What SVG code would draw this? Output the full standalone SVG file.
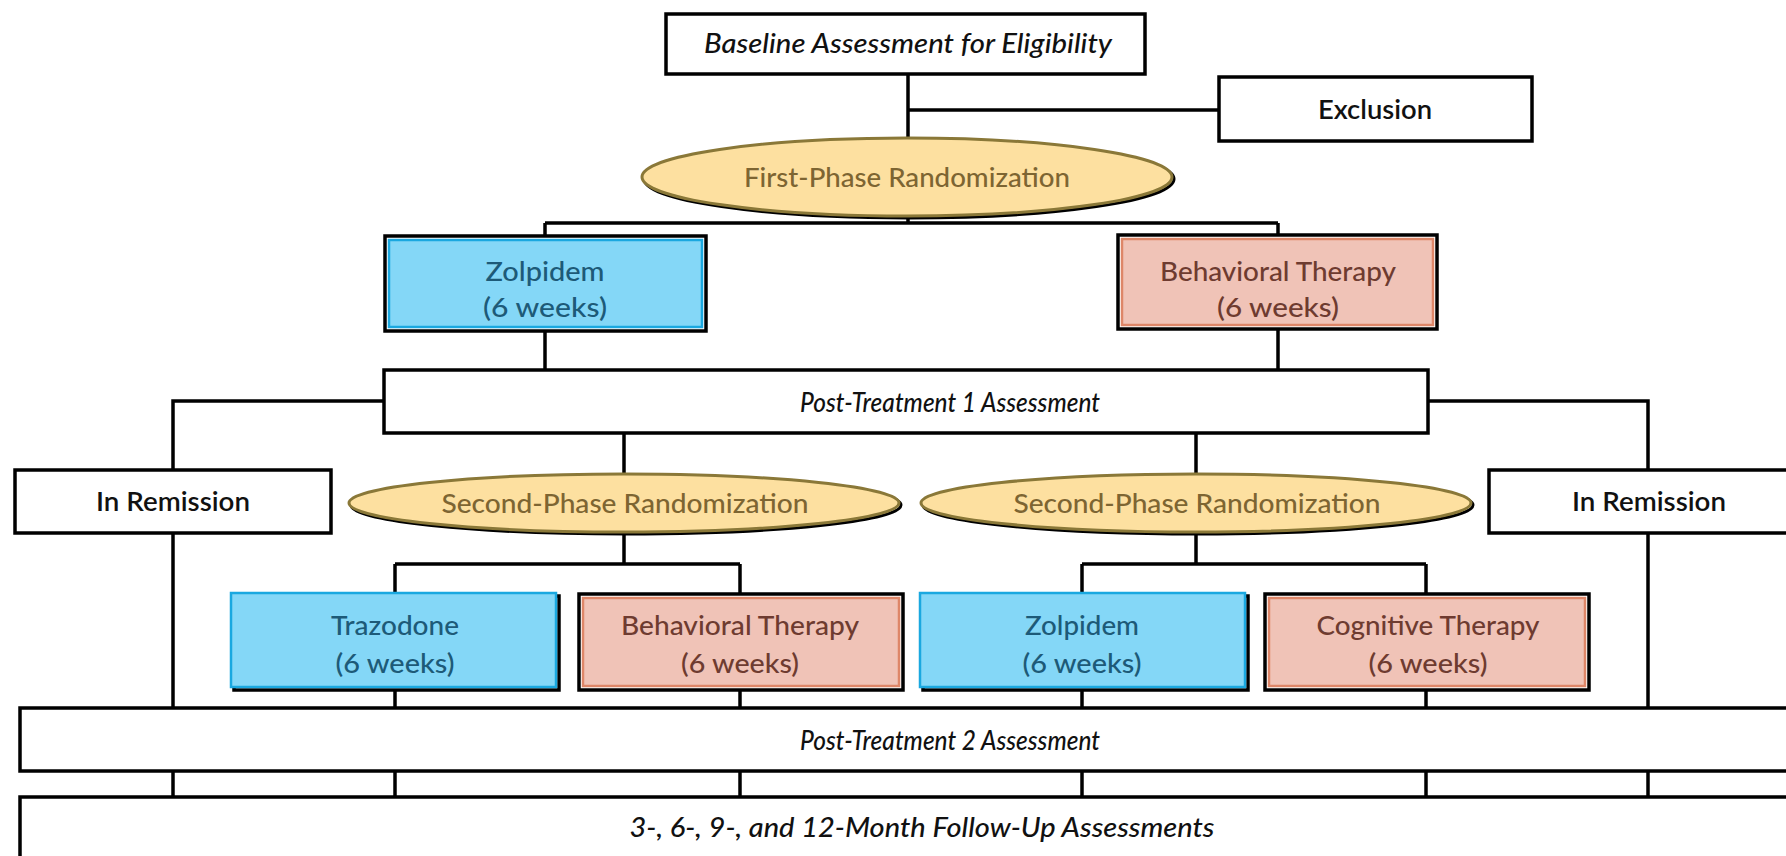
<svg xmlns="http://www.w3.org/2000/svg" width="1786" height="856" viewBox="0 0 1786 856">
  <style>
    text { font-family: Lato, "Open Sans", "Liberation Sans", sans-serif; font-size: 27px; font-weight: 500; text-anchor: middle; }
    .it { font-style: italic; fill: #111; }
    .bk { fill: #111; font-weight: 600; }
    .bl { fill: #1d5a78; }
    .sa { fill: #6e3b30; }
    .el { fill: #7d6532; }
    .box { fill: #fff; stroke: #000; stroke-width: 3.5; }
    .frame { fill: none; stroke: #000; stroke-width: 3.5; }
    .blueIn { fill: #84d7f7; stroke: #1aa8e0; stroke-width: 2.5; }
    .salIn { fill: #f0c3b7; stroke: #de8668; stroke-width: 2.5; }
    .ovShadow { fill: none; stroke: #000; stroke-width: 3; }
    .ov { fill: #fde0a0; stroke: #8a7838; stroke-width: 3; }
    .conn path { fill: none; stroke: #000; stroke-width: 3.5; }
  </style>

  <!-- connectors -->
  <g id="connectors" class="conn">
    <path d="M908 74 V137"/>
    <path d="M908 110 H1219"/>
    <path d="M908 216 V223"/>
    <path d="M545 223 H1278"/>
    <path d="M545 223 V236"/>
    <path d="M1278 223 V235"/>
    <path d="M545 331 V370"/>
    <path d="M1278 329 V370"/>
    <path d="M384 401 H173 V470"/>
    <path d="M1428 401 H1648 V470"/>
    <path d="M624 433 V473"/>
    <path d="M1196 433 V473"/>
    <path d="M624 533 V564"/>
    <path d="M395 564 H740"/>
    <path d="M395 564 V593"/>
    <path d="M740 564 V593"/>
    <path d="M1196 533 V564"/>
    <path d="M1082 564 H1426"/>
    <path d="M1082 564 V593"/>
    <path d="M1426 564 V593"/>
    <path d="M173 533 V708"/>
    <path d="M1648 533 V708"/>
    <path d="M395 689 V708"/>
    <path d="M740 691 V708"/>
    <path d="M1082 689 V708"/>
    <path d="M1426 691 V708"/>
    <path d="M173 771 V797"/>
    <path d="M395 771 V797"/>
    <path d="M740 771 V797"/>
    <path d="M1082 771 V797"/>
    <path d="M1426 771 V797"/>
    <path d="M1648 771 V797"/>
  </g>

  <!-- baseline assessment -->
  <g id="baseline">
    <rect class="box" x="666" y="14" width="479" height="60"/>
    <text class="it" x="908" y="53" textLength="408" lengthAdjust="spacingAndGlyphs">Baseline Assessment for Eligibility</text>
  </g>

  <!-- exclusion -->
  <g id="exclusion">
    <rect class="box" x="1219" y="77" width="313" height="64"/>
    <text class="bk" x="1375" y="119" textLength="114" lengthAdjust="spacingAndGlyphs">Exclusion</text>
  </g>

  <!-- first randomization -->
  <g id="rand1">
    <ellipse class="ovShadow" cx="909" cy="179" rx="265" ry="39"/>
    <ellipse class="ov" cx="907" cy="177" rx="265" ry="39"/>
    <text class="el" x="907" y="187" textLength="326" lengthAdjust="spacingAndGlyphs">First-Phase Randomization</text>
  </g>

  <!-- phase one arms -->
  <g id="zolpidem1">
    <rect class="frame" x="385" y="236" width="321" height="95"/>
    <rect class="blueIn" x="389" y="240" width="313" height="87"/>
    <text class="bl" x="545" y="281" textLength="119" lengthAdjust="spacingAndGlyphs">Zolpidem</text>
    <text class="bl" x="545" y="317" textLength="124" lengthAdjust="spacingAndGlyphs">(6 weeks)</text>
  </g>
  <g id="behavioral1">
    <rect class="frame" x="1118" y="235" width="319" height="94"/>
    <rect class="salIn" x="1122" y="239" width="311" height="86"/>
    <text class="sa" x="1278" y="281" textLength="236" lengthAdjust="spacingAndGlyphs">Behavioral Therapy</text>
    <text class="sa" x="1278" y="317" textLength="122" lengthAdjust="spacingAndGlyphs">(6 weeks)</text>
  </g>

  <!-- post-treatment 1 -->
  <g id="post1">
    <rect class="box" x="384" y="370" width="1044" height="63"/>
    <text class="it" x="950" y="412" textLength="300" lengthAdjust="spacingAndGlyphs">Post-Treatment 1 Assessment</text>
  </g>

  <!-- remission boxes -->
  <g id="remissionL">
    <rect class="box" x="15" y="470" width="316" height="63"/>
    <text class="bk" x="173" y="511" textLength="154" lengthAdjust="spacingAndGlyphs">In Remission</text>
  </g>
  <g id="remissionR">
    <rect class="box" x="1489" y="470" width="318" height="63"/>
    <text class="bk" x="1649" y="511" textLength="154" lengthAdjust="spacingAndGlyphs">In Remission</text>
  </g>

  <!-- second randomizations -->
  <g id="rand2L">
    <ellipse class="ovShadow" cx="626" cy="505" rx="275" ry="29"/>
    <ellipse class="ov" cx="624" cy="503" rx="275" ry="29"/>
    <text class="el" x="625" y="513" textLength="367" lengthAdjust="spacingAndGlyphs">Second-Phase Randomization</text>
  </g>
  <g id="rand2R">
    <ellipse class="ovShadow" cx="1198" cy="505" rx="275" ry="29"/>
    <ellipse class="ov" cx="1196" cy="503" rx="275" ry="29"/>
    <text class="el" x="1197" y="513" textLength="367" lengthAdjust="spacingAndGlyphs">Second-Phase Randomization</text>
  </g>

  <!-- phase two arms -->
  <g id="trazodone">
    <rect class="frame" x="234" y="596" width="325" height="94"/>
    <rect class="blueIn" x="231" y="593" width="325" height="94" stroke-width="3.5"/>
    <text class="bl" x="395" y="635" textLength="128" lengthAdjust="spacingAndGlyphs">Trazodone</text>
    <text class="bl" x="395" y="673" textLength="119" lengthAdjust="spacingAndGlyphs">(6 weeks)</text>
  </g>
  <g id="behavioral2">
    <rect class="frame" x="579" y="594" width="324" height="96"/>
    <rect class="salIn" x="583" y="598" width="316" height="88"/>
    <text class="sa" x="740" y="635" textLength="238" lengthAdjust="spacingAndGlyphs">Behavioral Therapy</text>
    <text class="sa" x="740" y="673" textLength="118" lengthAdjust="spacingAndGlyphs">(6 weeks)</text>
  </g>
  <g id="zolpidem2">
    <rect class="frame" x="923" y="596" width="325" height="94"/>
    <rect class="blueIn" x="920" y="593" width="325" height="94" stroke-width="3.5"/>
    <text class="bl" x="1082" y="635" textLength="114" lengthAdjust="spacingAndGlyphs">Zolpidem</text>
    <text class="bl" x="1082" y="673" textLength="119" lengthAdjust="spacingAndGlyphs">(6 weeks)</text>
  </g>
  <g id="cognitive">
    <rect class="frame" x="1265" y="594" width="324" height="96"/>
    <rect class="salIn" x="1269" y="598" width="316" height="88"/>
    <text class="sa" x="1428" y="635" textLength="223" lengthAdjust="spacingAndGlyphs">Cognitive Therapy</text>
    <text class="sa" x="1428" y="673" textLength="119" lengthAdjust="spacingAndGlyphs">(6 weeks)</text>
  </g>

  <!-- post-treatment 2 -->
  <g id="post2">
    <rect class="box" x="20" y="708" width="1790" height="63"/>
    <text class="it" x="950" y="750" textLength="300" lengthAdjust="spacingAndGlyphs">Post-Treatment 2 Assessment</text>
  </g>

  <!-- follow-up -->
  <g id="followup">
    <rect class="box" x="20" y="797" width="1790" height="80"/>
    <text class="it" x="922" y="837" textLength="585" lengthAdjust="spacingAndGlyphs">3-, 6-, 9-, and 12-Month Follow-Up Assessments</text>
  </g>
</svg>
